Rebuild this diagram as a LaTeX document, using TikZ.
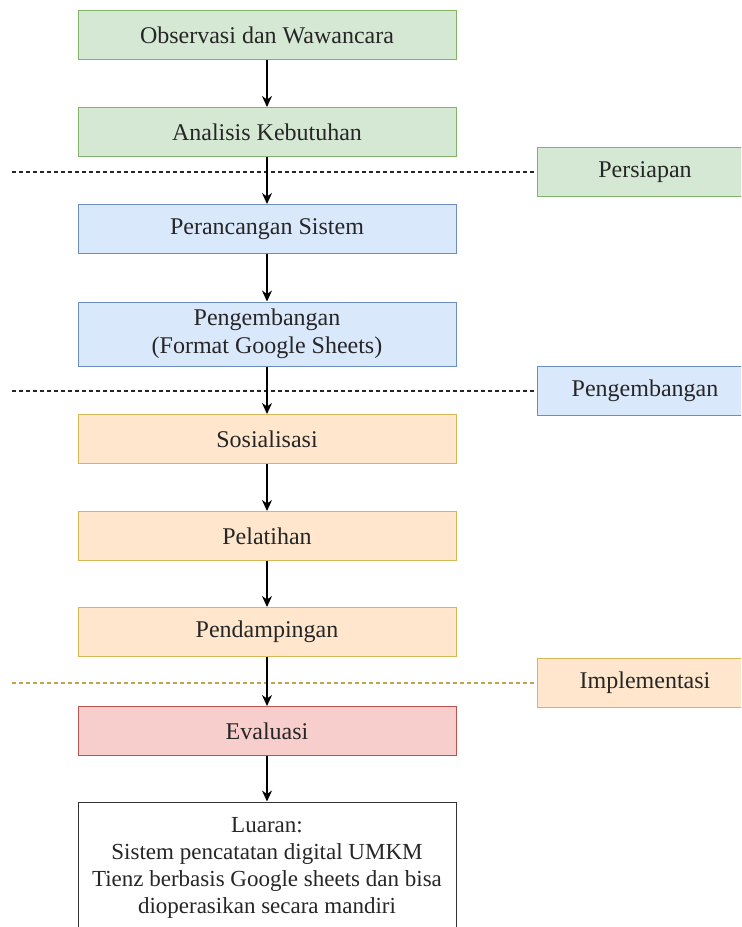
\documentclass[tikz,border=0pt]{standalone}
\usepackage{fontspec}
\setmainfont{Liberation Serif}
\usetikzlibrary{arrows.meta, positioning}
\definecolor{prepfill}{HTML}{D5E8D4}
\definecolor{prepline}{HTML}{82B366}
\definecolor{devfill}{HTML}{DAE8FC}
\definecolor{devline}{HTML}{6C8EBF}
\definecolor{implfill}{HTML}{FFE6CC}
\definecolor{implline}{HTML}{D6B656}
\definecolor{evalfill}{HTML}{F8CECC}
\definecolor{evalline}{HTML}{B85450}

\begin{document}
\begin{tikzpicture}[
  x=0.5pt, y=-0.5pt,
  box/.style={rectangle, draw, line width=0.5pt, minimum width=189pt, minimum height=24.5pt, align=center, font=\fontsize{12}{14}\selectfont, text=black!85},
  sidebox/.style={box, minimum width=108pt},
  prep/.style={fill=prepfill, draw=prepline},
  dev/.style={fill=devfill, draw=devline},
  impl/.style={fill=implfill, draw=implline},
  evalu/.style={fill=evalfill, draw=evalline},
  arrow/.style={-{Stealth[length=5.5pt, width=5pt]}, line width=0.75pt},
  phase/.style={dashed, dash pattern=on 2pt off 1.5pt, line width=0.6pt}
]
  \clip (0,0) rectangle (741,927);

  % Main flow
  \node[box, prep] (obs) at (267, 35) {Observasi dan Wawancara};
  \node[box, prep] (analisis) at (267, 132) {Analisis Kebutuhan};
  \node[box, dev] (rancang) at (267, 229) {Perancangan Sistem};
  \node[box, dev, minimum height=32pt] (kembang) at (267, 334) {Pengembangan\\(Format Google Sheets)};
  \node[box, impl] (sosial) at (267, 439) {Sosialisasi};
  \node[box, impl] (latih) at (267, 536) {Pelatihan};
  \node[box, impl] (damping) at (267, 632) {Pendampingan};
  \node[box, evalu] (evaluasi) at (267, 731) {Evaluasi};
  \node[box, fill=white, draw=black!80, minimum height=66pt, font=\fontsize{11.5}{13.5}\selectfont] (luaran) at (267, 868)
    {Luaran:\\Sistem pencatatan digital UMKM\\Tienz berbasis Google sheets dan bisa\\dioperasikan secara mandiri};

  % Phases
  \node[sidebox, prep] (persiapan) at (645, 172) {Persiapan};
  \node[sidebox, dev] (pengembangan) at (645, 391) {Pengembangan};
  \node[sidebox, impl] (implementasi) at (645, 683) {Implementasi};

  \coordinate (p1) at (12, 172);
  \coordinate (p2) at (12, 391);
  \coordinate (p3) at (12, 683);
  \draw[phase, black!85] (p1) -- (persiapan.west);
  \draw[phase, black!85] (p2) -- (pengembangan.west);
  \draw[phase, implline!90!black] (p3) -- (implementasi.west);

  % Arrows
  \draw[arrow] (obs) -- (analisis);
  \draw[arrow] (analisis) -- (rancang);
  \draw[arrow] (rancang) -- (kembang);
  \draw[arrow] (kembang) -- (sosial);
  \draw[arrow] (sosial) -- (latih);
  \draw[arrow] (latih) -- (damping);
  \draw[arrow] (damping) -- (evaluasi);
  \draw[arrow] (evaluasi) -- (luaran);
\end{tikzpicture}
\end{document}
